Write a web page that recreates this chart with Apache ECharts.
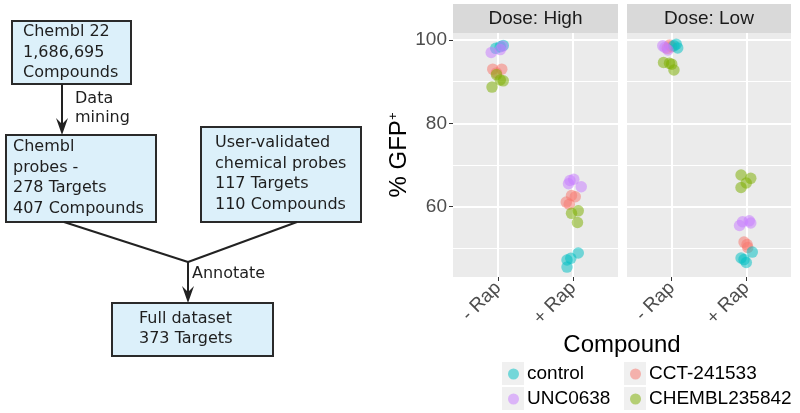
<!DOCTYPE html>
<html>
<head>
<meta charset="utf-8">
<script src="https://cdn.jsdelivr.net/npm/echarts@6/dist/echarts.min.js"></script>
<style>html,body{margin:0;padding:0;background:#fff}#c{width:800px;height:413px}</style>
</head>
<body>
<div id="c"></div>
<script>
// ---------- data ----------
const compounds = ['control', 'UNC0638', 'CCT-241533', 'CHEMBL235842'];
const doses = ['Dose: High', 'Dose: Low'];
const xLabels = ['- Rap', '+ Rap'];          // category 1 and 2
const yTicks = [60, 80, 100];
const yMinor = [50, 70, 90];
const yAxisTitle = '% GFP';
const xAxisTitle = 'Compound';

// [category position incl. jitter, % GFP+]
const highControl = [[0.97, 98.0], [1.03, 98.4], [1.07, 98.7], [2.07, 48.9], [1.97, 47.6], [1.92, 47.2], [1.92, 45.5]];
const highUNC = [[0.91, 97.0], [1.03, 97.7], [1.06, 98.5], [1.96, 66.3], [2.01, 66.6], [2.11, 64.8], [1.94, 65.5]];
const highCCT = [[0.93, 93.0], [1.05, 93.0], [0.98, 92.1], [1.98, 62.7], [2.03, 62.4], [1.91, 61.1], [1.95, 60.6]];
const highCHEMBL = [[0.92, 88.7], [0.98, 91.7], [1.03, 90.4], [1.07, 90.2], [1.98, 58.4], [2.07, 59.0], [2.06, 56.2]];

const lowControl = [[1.06, 99.0], [1.08, 98.1], [1.03, 98.6], [2.08, 49.1], [1.93, 47.7], [2.0, 46.6], [1.97, 47.3]];
const lowUNC = [[0.88, 98.6], [0.91, 98.2], [0.95, 97.6], [1.91, 55.5], [1.95, 56.4], [2.04, 56.6], [2.06, 56.1]];
const lowCCT = [[0.97, 98.8], [0.94, 98.0], [1.0, 98.4], [1.97, 51.5], [2.01, 50.9], [2.02, 50.2]];
const lowCHEMBL = [[0.89, 94.6], [0.97, 94.4], [1.0, 94.2], [1.03, 92.8], [1.93, 67.6], [2.06, 66.8], [1.93, 64.6], [2.0, 65.7]];

// flowchart text
const box1Text = ['Chembl 22', '1,686,695', 'Compounds'];
const box2Text = ['Chembl', 'probes -', '278 Targets', '407 Compounds'];
const box3Text = ['User-validated', 'chemical probes', '117 Targets', '110 Compounds'];
const box4Text = ['Full dataset', '373 Targets'];
const edge1Text = ['Data', 'mining'];
const edge2Text = ['Annotate'];

// ---------- styles ----------
const colors = {
  'control': 'rgba(0,191,196,0.65)',
  'UNC0638': 'rgba(199,124,255,0.65)',
  'CCT-241533': 'rgba(248,118,109,0.65)',
  'CHEMBL235842': 'rgba(124,174,0,0.65)'
};
const FONT = "'Liberation Sans', Arial, sans-serif";
const FLOWFONT = "'DejaVu Sans', sans-serif";
const panelData = [
  { 'control': highControl, 'UNC0638': highUNC, 'CCT-241533': highCCT, 'CHEMBL235842': highCHEMBL },
  { 'control': lowControl, 'UNC0638': lowUNC, 'CCT-241533': lowCCT, 'CHEMBL235842': lowCHEMBL }
];
const grids = [
  { left: 453, top: 33, width: 165, height: 244 },
  { left: 627, top: 33, width: 164, height: 244 }
];
// legend slots (column-major like the reference)
const legendSlots = [
  { left: 508, top: 363 }, { left: 508, top: 388 },
  { left: 630, top: 363 }, { left: 630, top: 388 }
];

const chart = echarts.init(document.getElementById('c'), null, { renderer: 'canvas' });

const xAxes = grids.map((g, i) => ({
  type: 'value', gridIndex: i, min: 0.4, max: 2.6,
  axisLine: { show: false },
  splitLine: { show: false },
  axisTick: { show: true, length: 4, lineStyle: { color: '#333', width: 1 }, customValues: [1, 2] },
  axisLabel: {
    customValues: [1, 2], rotate: 45, margin: 8, fontSize: 19, color: '#4D4D4D', fontFamily: FONT,
    formatter: v => xLabels[Math.round(v) - 1] || ''
  }
}));
const yAxes = grids.map((g, i) => ({
  type: 'value', gridIndex: i, min: 43.13, max: 101.68,
  axisLine: { show: false },
  splitLine: { show: false },
  axisTick: { show: i === 0, length: 4, lineStyle: { color: '#333', width: 1 }, customValues: yTicks },
  axisLabel: { show: i === 0, customValues: yTicks, margin: 6, fontSize: 19, color: '#4D4D4D', fontFamily: FONT },
  name: i === 0 ? yAxisTitle + '{sup|+}' : '',
  nameLocation: 'middle', nameRotate: 90, nameGap: 42,
  nameTextStyle: {
    fontSize: 24, color: '#000', fontFamily: FONT,
    rich: { sup: { fontSize: 13, color: '#000', fontFamily: FONT, verticalAlign: 'top', padding: [0, 0, 10, 0] } }
  }
}));

const series = [];
grids.forEach((g, i) => {
  // panel grid lines through the axes' scales
  series.push({
    type: 'scatter', xAxisIndex: i, yAxisIndex: i, data: [], z: 1, silent: true,
    markLine: {
      silent: true, symbol: 'none', animation: false, label: { show: false },
      data: [
        ...yMinor.map(v => ({ yAxis: v, lineStyle: { color: '#fff', width: 1.1, type: 'solid' } })),
        ...yTicks.map(v => ({ yAxis: v, lineStyle: { color: '#fff', width: 2, type: 'solid' } })),
        ...[1, 2].map(v => ({ xAxis: v, lineStyle: { color: '#fff', width: 2, type: 'solid' } }))
      ]
    }
  });
  ['CCT-241533', 'CHEMBL235842', 'control', 'UNC0638'].forEach(name => {
    series.push({
      type: 'scatter', name: name, xAxisIndex: i, yAxisIndex: i, z: 5,
      symbol: 'circle', symbolSize: 11.5,
      itemStyle: { color: colors[name] },
      data: panelData[i][name],
      animation: false
    });
  });
});

function boxGroup(x, y, w, h, lines, tx, ty, lh) {
  return [
    { type: 'rect', shape: { x: x, y: y, width: w, height: h }, style: { fill: '#DCF0FA', stroke: '#2a2a2a', lineWidth: 2 } },
    { type: 'text', x: tx, y: ty, style: { text: lines.join('\n'), font: '16px ' + FLOWFONT, fill: '#1e1e1e', lineHeight: lh, verticalAlign: 'top', align: 'left' } }
  ];
}
const lineStyle = { stroke: '#222', lineWidth: 2 };
const graphic = [
  ...boxGroup(12, 21, 119, 63, box1Text, 23, 22, 20.3),
  ...boxGroup(6, 135, 150, 87, box2Text, 13, 137, 20.5),
  ...boxGroup(201, 127, 160, 95, box3Text, 215, 133, 20.5),
  ...boxGroup(112, 303, 161, 53, box4Text, 139, 309, 20),
  { type: 'line', shape: { x1: 62, y1: 84, x2: 62, y2: 128 }, style: lineStyle },
  { type: 'polygon', shape: { points: [[62, 135], [56, 118], [62, 124], [68, 118]] }, style: { fill: '#222' } },
  { type: 'text', x: 75, y: 89, style: { text: edge1Text.join('\n'), font: '16px ' + FLOWFONT, fill: '#1e1e1e', lineHeight: 19.5, verticalAlign: 'top' } },
  { type: 'line', shape: { x1: 64, y1: 222, x2: 188, y2: 262 }, style: lineStyle },
  { type: 'line', shape: { x1: 297, y1: 222, x2: 188, y2: 262 }, style: lineStyle },
  { type: 'line', shape: { x1: 188, y1: 262, x2: 188, y2: 296 }, style: lineStyle },
  { type: 'polygon', shape: { points: [[188, 303], [182, 286], [188, 292], [194, 286]] }, style: { fill: '#222' } },
  { type: 'text', x: 192, y: 266, style: { text: edge2Text.join('\n'), font: '16px ' + FLOWFONT, fill: '#1e1e1e', verticalAlign: 'top' } },
  // facet strips
  ...grids.map((g, i) => ({ type: 'rect', shape: { x: g.left, y: 4, width: g.width, height: 29 }, style: { fill: '#D9D9D9' } })),
  ...grids.map((g, i) => ({ type: 'text', x: g.left + g.width / 2, y: 18.5, style: { text: doses[i], font: '19px ' + FONT, fill: '#1A1A1A', align: 'center', verticalAlign: 'middle' } })),
  // x axis title
  { type: 'text', x: 622, y: 345, style: { text: xAxisTitle, font: '24px ' + FONT, fill: '#000', align: 'center', verticalAlign: 'middle' } },
  // legend key backgrounds
  ...legendSlots.map(s => ({ type: 'rect', shape: { x: s.left - 6, y: s.top - 1, width: 22, height: 23 }, style: { fill: '#F0F0F0' } }))
];

const legends = compounds.map((name, k) => ({
  data: [name], left: legendSlots[k].left, top: legendSlots[k].top,
  orient: 'vertical', icon: 'circle', itemWidth: 11, itemHeight: 11, itemGap: 0, padding: 0,
  textStyle: { fontSize: 19, color: '#000', fontFamily: FONT, lineHeight: 22, padding: [0, 0, 0, 3] },
  selectedMode: false
}));

chart.setOption({
  animation: false,
  backgroundColor: '#fff',
  grid: grids.map(g => Object.assign({ show: true, backgroundColor: '#EBEBEB', borderWidth: 0, containLabel: false }, g)),
  xAxis: xAxes,
  yAxis: yAxes,
  legend: legends,
  series: series,
  graphic: graphic
});
</script>
</body>
</html>
